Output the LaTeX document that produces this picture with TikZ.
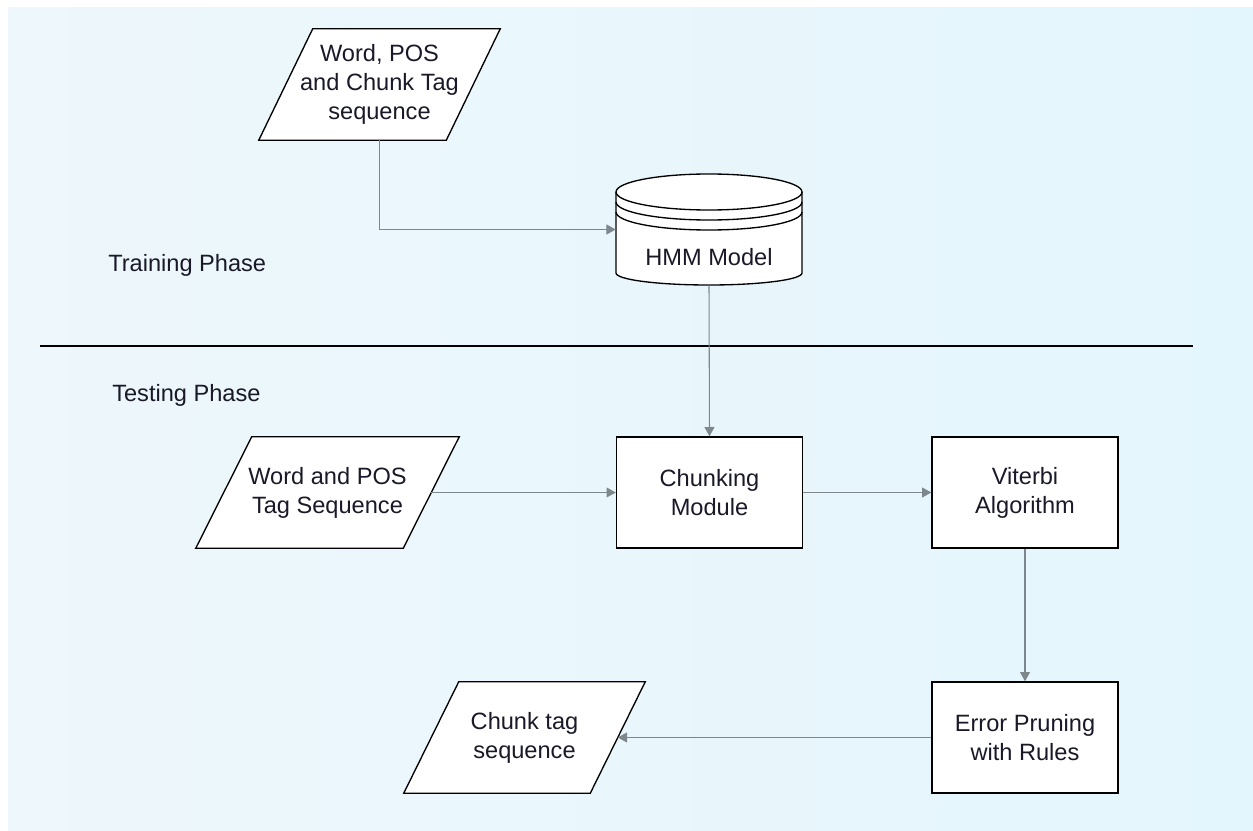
\documentclass[tikz,border=0pt]{standalone}
\usepackage{fontspec}
\setmainfont{Liberation Sans}
\usetikzlibrary{arrows.meta,calc}
\pgfdeclarelayer{backdrop}
\pgfdeclarelayer{shapes}
\pgfsetlayers{backdrop,shapes,main}
\definecolor{bgleft}{RGB}{238,247,251}
\definecolor{bgright}{RGB}{228,246,253}
\definecolor{conngray}{RGB}{125,135,140}
\definecolor{txt}{RGB}{25,25,40}
\begin{document}
\begin{tikzpicture}[x=0.75pt,y=-0.75pt,
  every node/.style={font=\fontsize{17.7}{21.75}\selectfont, text=txt, align=center},
  outline/.style={draw=black, line width=1pt, fill=white},
  procbox/.style={outline, minimum width=139.5pt, minimum height=83.25pt, inner sep=2pt},
  iotext/.style={minimum height=83.25pt, inner sep=2pt},
  conn/.style={draw=conngray, line width=0.8pt, -{Triangle[length=7pt,width=7.5pt]}},
  phase/.style={anchor=west, inner sep=0pt}]

% page and background
\useasboundingbox (0,0) rectangle (1253,831);
\begin{pgfonlayer}{backdrop}
\fill[white] (0,0) rectangle (1253,831);
\shade[left color=bgleft, right color=bgright] (8,8) rectangle (1253,831);
\end{pgfonlayer}

% phase separator
\draw[black, line width=1pt] (40,346) -- (1193,346);
\node[phase] (training) at (108,265) {Training Phase};
\node[phase] (testing) at (112,395) {Testing Phase};

% HMM model store (stacked cylinder)
\fill[white] (616,192) arc[start angle=180, end angle=360, x radius=93, y radius=18]
  -- (802,273) arc[start angle=0, end angle=180, x radius=93, y radius=12] -- cycle;
\draw[black, line width=1pt] (709,192) ellipse[x radius=93, y radius=18];
\draw[black, line width=1pt] (616,202) arc[start angle=180, end angle=0, x radius=93, y radius=18];
\draw[black, line width=1pt] (616,212) arc[start angle=180, end angle=0, x radius=93, y radius=18];
\draw[black, line width=1pt] (616,192) -- (616,273)
  arc[start angle=180, end angle=0, x radius=93, y radius=12] -- (802,192);
\node[minimum width=139.5pt, minimum height=83.25pt, inner sep=0pt] (hmm) at (709,229.5) {};
\node (hmmlabel) at (709,257) {HMM Model};

% inputs and outputs: text bodies, slanted outlines drawn behind them
\node[iotext, minimum width=140.25pt] (train) at (379.5,84.5) {Word, POS\\and Chunk Tag\\sequence};
\node[iotext, minimum width=155.25pt] (input) at (327.5,492.5) {Word and POS\\Tag Sequence};
\node[iotext, minimum width=139.5pt] (output) at (524.5,737.5) {Chunk tag\\sequence};
\begin{pgfonlayer}{shapes}
\draw[outline] ($(train.south west)+(-27,0)$) -- ($(train.north west)+(27,0)$)
  -- ($(train.north east)+(27,0)$) -- ($(train.south east)+(-27,0)$) -- cycle;
\draw[outline] ($(input.south west)+(-28,0)$) -- ($(input.north west)+(28,0)$)
  -- ($(input.north east)+(28,0)$) -- ($(input.south east)+(-28,0)$) -- cycle;
\draw[outline] ($(output.south west)+(-27.5,0)$) -- ($(output.north west)+(27.5,0)$)
  -- ($(output.north east)+(27.5,0)$) -- ($(output.south east)+(-27.5,0)$) -- cycle;
\end{pgfonlayer}

% processing steps
\node[procbox] (chunk) at (709.5,492.5) {Chunking\\Module};
\node[procbox] (viterbi) at (1025,492.5) {Viterbi\\Algorithm};
\node[procbox] (prune) at (1025,737.5) {Error Pruning\\with Rules};

% connectors
\draw[conn] (train.south) |- (hmm.west);
\draw[conn] (hmm.south) -- (chunk.north);
\draw[conn] (input.east) -- (chunk.west);
\draw[conn] (chunk.east) -- (viterbi.west);
\draw[conn] (viterbi.south) -- (prune.north);
\draw[conn] (prune.west) -- (output.east);
\end{tikzpicture}
\end{document}
